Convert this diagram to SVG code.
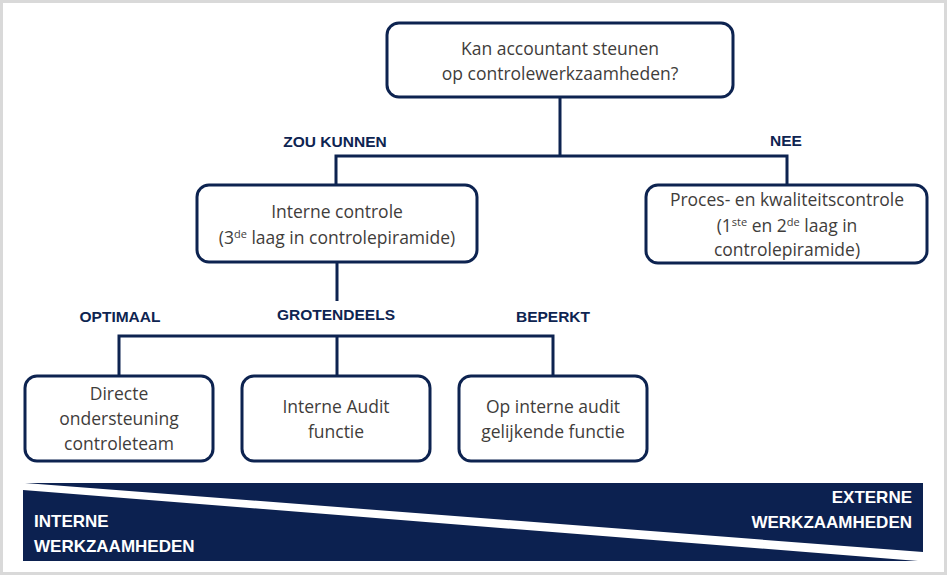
<svg xmlns="http://www.w3.org/2000/svg" width="948" height="577" viewBox="0 0 948 577">
<style>
.box{fill:#fff;stroke:#0d2350;stroke-width:3}
.t{font-family:"Open Sans","Liberation Sans",sans-serif;font-size:17.5px;fill:#3f3d3b;text-anchor:middle}
.sup{font-size:11px}
.lbl{font-family:"Liberation Sans",Arial,sans-serif;font-weight:bold;font-size:15.5px;fill:#0e2451;text-anchor:middle}
.ban{font-family:"Liberation Sans",Arial,sans-serif;font-weight:bold;font-size:17px;fill:#fff}
.c{fill:none;stroke:#0d2350;stroke-width:3}
</style>
<rect x="0" y="0" width="948" height="577" fill="#fff"/>
<rect x="1.5" y="1.5" width="944" height="572" fill="none" stroke="#d9d9d9" stroke-width="3"/>
<g id="connectors">
<path class="c" d="M560 97 V156 M336 185 V156 H787 V185"/>
<path class="c" d="M337 262 V301 M337 336 V376 M119 376 V336 H553 V376"/>
</g>
<g id="labels">
<text class="lbl" x="335" y="147">ZOU KUNNEN</text>
<text class="lbl" x="786" y="146">NEE</text>
<text class="lbl" x="120" y="322">OPTIMAAL</text>
<text class="lbl" x="336" y="320">GROTENDEELS</text>
<text class="lbl" x="553" y="322">BEPERKT</text>
</g>
<g id="n-question">
<rect class="box" x="387" y="23" width="346" height="74" rx="12"/>
<text class="t" x="560" y="55">Kan accountant steunen</text>
<text class="t" x="560" y="80">op controlewerkzaamheden?</text>
</g>
<g id="n-interne-controle">
<rect class="box" x="197" y="185" width="280" height="77" rx="12"/>
<text class="t" x="337" y="218">Interne controle</text>
<text class="t" x="337" y="244">(3<tspan class="sup" dy="-6">de</tspan><tspan dy="6"> laag in controlepiramide)</tspan></text>
</g>
<g id="n-proces">
<rect class="box" x="646" y="185" width="281" height="78" rx="12"/>
<text class="t" x="787" y="206">Proces- en kwaliteitscontrole</text>
<text class="t" x="787" y="232">(1<tspan class="sup" dy="-6">ste</tspan><tspan dy="6"> en 2</tspan><tspan class="sup" dy="-6">de</tspan><tspan dy="6"> laag in</tspan></text>
<text class="t" x="787" y="256">controlepiramide)</text>
</g>
<g id="n-directe">
<rect class="box" x="25" y="376" width="188" height="85" rx="12"/>
<text class="t" x="119" y="400">Directe</text>
<text class="t" x="119" y="425">ondersteuning</text>
<text class="t" x="119" y="450">controleteam</text>
</g>
<g id="n-audit">
<rect class="box" x="242" y="376" width="188" height="85" rx="12"/>
<text class="t" x="336" y="413">Interne Audit</text>
<text class="t" x="336" y="438">functie</text>
</g>
<g id="n-gelijkend">
<rect class="box" x="459" y="376" width="188" height="85" rx="12"/>
<text class="t" x="553" y="413">Op interne audit</text>
<text class="t" x="553" y="438">gelijkende functie</text>
</g>
<g id="banner">
<polygon points="25,483 923,483 923,552" fill="#0c2150"/>
<polygon points="23,490 23,561 918,561" fill="#0c2150"/>
<text class="ban" x="34" y="527">INTERNE</text>
<text class="ban" x="34" y="552">WERKZAAMHEDEN</text>
<text class="ban" x="912" y="503" text-anchor="end">EXTERNE</text>
<text class="ban" x="912" y="528" text-anchor="end">WERKZAAMHEDEN</text>
</g>
</svg>
